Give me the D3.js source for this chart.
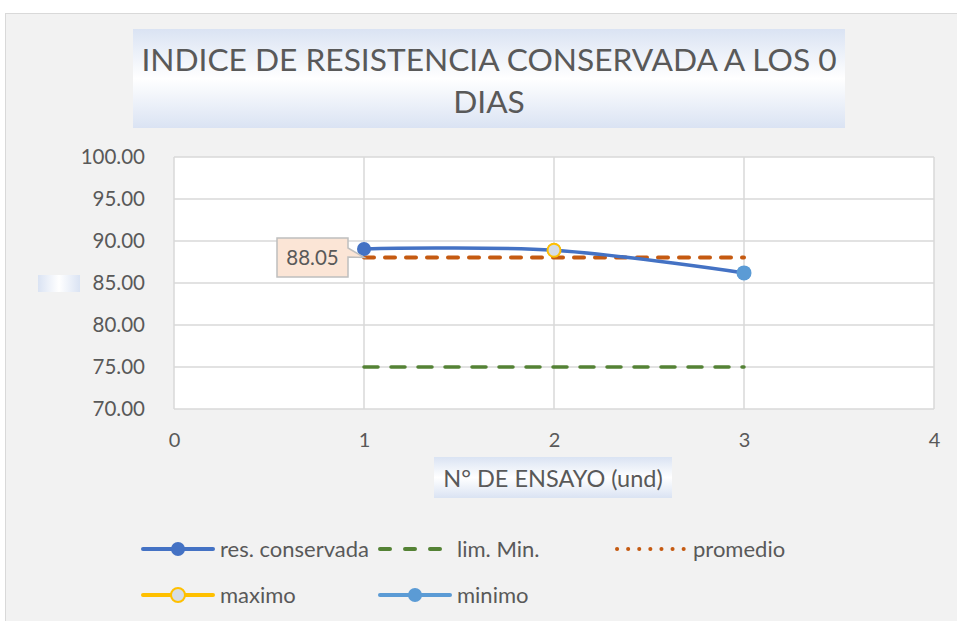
<!DOCTYPE html>
<html>
<head>
<meta charset="utf-8">
<script src="https://cdn.jsdelivr.net/npm/d3@7"></script>
<style>
  body { margin: 0; background: #fff; }
  svg { display: block; font-family: Lato, "Open Sans", sans-serif; }
</style>
</head>
<body>
<svg id="chart" width="957" height="621"></svg>
<script>
// data
var ensayos = [1, 2, 3];
var resConservada = [89.05, 88.90, 86.20];
var limMin = [75, 75, 75];
var promedio = [88.05, 88.05, 88.05];
var maximo = [{ x: 2, y: 88.90 }];
var minimo = [{ x: 3, y: 86.20 }];
var xTicks = [0, 1, 2, 3, 4];
var yTicks = [70, 75, 80, 85, 90, 95, 100];
var promedioLabel = "88.05";

var svg = d3.select("#chart");

var grey = "#595959";
var defs = svg.append("defs");
var grad = defs.append("linearGradient")
  .attr("id", "boxGrad").attr("x1", 0).attr("y1", 0).attr("x2", 0).attr("y2", 1);
grad.append("stop").attr("offset", "0%").attr("stop-color", "#dae3f3");
grad.append("stop").attr("offset", "50%").attr("stop-color", "#ffffff");
grad.append("stop").attr("offset", "100%").attr("stop-color", "#dae3f3");
var gradH = defs.append("linearGradient")
  .attr("id", "boxGradH").attr("x1", 0).attr("y1", 0).attr("x2", 1).attr("y2", 0);
gradH.append("stop").attr("offset", "0%").attr("stop-color", "#dae3f3");
gradH.append("stop").attr("offset", "50%").attr("stop-color", "#ffffff");
gradH.append("stop").attr("offset", "100%").attr("stop-color", "#dae3f3");

// chart background
svg.append("rect")
  .attr("x", 5.5).attr("y", 13.5).attr("width", 960).attr("height", 620)
  .attr("fill", "#f2f2f2").attr("stroke", "#d9d9d9");

// title
svg.append("rect")
  .attr("x", 133).attr("y", 29).attr("width", 712).attr("height", 99)
  .attr("fill", "url(#boxGrad)");
svg.append("text").attr("x", 489).attr("y", 71)
  .attr("text-anchor", "middle").attr("font-size", 31.7).attr("fill", grey)
  .text("INDICE DE RESISTENCIA CONSERVADA A LOS 0");
svg.append("text").attr("x", 489).attr("y", 113)
  .attr("text-anchor", "middle").attr("font-size", 31.7).attr("fill", grey)
  .text("DIAS");

// plot area
var plotL = 174, plotR = 934, plotT = 157, plotB = 409;
var x = d3.scaleLinear().domain([0, 4]).range([plotL, plotR]);
var y = d3.scaleLinear().domain([70, 100]).range([plotB, plotT]);

svg.append("rect")
  .attr("x", plotL).attr("y", plotT).attr("width", plotR - plotL).attr("height", plotB - plotT)
  .attr("fill", "#fff");

svg.append("g")
  .selectAll("line").data(yTicks).enter().append("line")
  .attr("x1", plotL).attr("x2", plotR)
  .attr("y1", function (d) { return y(d); }).attr("y2", function (d) { return y(d); })
  .attr("stroke", "#d9d9d9").attr("stroke-width", 1.5);
svg.append("g")
  .selectAll("line").data(xTicks).enter().append("line")
  .attr("y1", plotT).attr("y2", plotB)
  .attr("x1", function (d) { return x(d); }).attr("x2", function (d) { return x(d); })
  .attr("stroke", "#d9d9d9").attr("stroke-width", 1.5);

// axes (labels only)
var yAxis = svg.append("g")
  .attr("transform", "translate(" + (plotL - 26) + ",0)")
  .call(d3.axisLeft(y).tickValues(yTicks).tickSize(0).tickFormat(d3.format(".2f")));
yAxis.select(".domain").remove();
yAxis.selectAll("text").attr("font-size", 20.5).attr("fill", grey)
  .attr("font-family", "Lato, 'Open Sans', sans-serif");

var xAxis = svg.append("g")
  .attr("transform", "translate(0," + (plotB + 21) + ")")
  .call(d3.axisBottom(x).tickValues(xTicks).tickSize(0).tickFormat(d3.format("d")));
xAxis.select(".domain").remove();
xAxis.selectAll("text").attr("font-size", 20).attr("fill", grey)
  .attr("font-family", "Lato, 'Open Sans', sans-serif");

// axis title
svg.append("rect")
  .attr("x", 434).attr("y", 457).attr("width", 238).attr("height", 41)
  .attr("fill", "url(#boxGrad)");
svg.append("text").attr("x", 553).attr("y", 487)
  .attr("text-anchor", "middle").attr("font-size", 23.5).attr("fill", grey)
  .text("N° DE ENSAYO (und)");

// empty y axis title box
svg.append("rect")
  .attr("x", 38).attr("y", 275).attr("width", 42).attr("height", 17)
  .attr("fill", "url(#boxGradH)");

// series
function pts(vals) {
  return ensayos.map(function (e, i) { return { x: e, y: vals[i] }; });
}
var straight = d3.line().x(function (d) { return x(d.x); }).y(function (d) { return y(d.y); });
var smooth = d3.line().x(function (d) { return x(d.x); }).y(function (d) { return y(d.y); })
  .curve(d3.curveCardinal.tension(0));

svg.append("path").attr("d", straight(pts(limMin)))
  .attr("fill", "none").attr("stroke", "#548235").attr("stroke-width", 3.5)
  .attr("stroke-dasharray", "14,13").attr("stroke-linecap", "round");

svg.append("path").attr("d", straight(pts(promedio)))
  .attr("fill", "none").attr("stroke", "#c55a11").attr("stroke-width", 4)
  .attr("stroke-dasharray", "10,11").attr("stroke-linecap", "round");

svg.append("path").attr("d", smooth(pts(resConservada)))
  .attr("fill", "none").attr("stroke", "#4472c4").attr("stroke-width", 3.5);
svg.append("g").selectAll("circle").data(pts(resConservada)).enter().append("circle")
  .attr("cx", function (d) { return x(d.x); }).attr("cy", function (d) { return y(d.y); })
  .attr("r", 7).attr("fill", "#4472c4");

svg.append("g").selectAll("circle").data(maximo).enter().append("circle")
  .attr("cx", function (d) { return x(d.x); }).attr("cy", function (d) { return y(d.y); })
  .attr("r", 6.5).attr("fill", "#d6dce5").attr("stroke", "#ffc000").attr("stroke-width", 2);

svg.append("g").selectAll("circle").data(minimo).enter().append("circle")
  .attr("cx", function (d) { return x(d.x); }).attr("cy", function (d) { return y(d.y); })
  .attr("r", 7.5).attr("fill", "#5b9bd5");

// data label callout for promedio
var px = x(ensayos[0]), py = y(promedio[0]);
var bx = 277, by = 238, bw = 71, bh = 39;
svg.append("path")
  .attr("d", "M" + bx + "," + by + "H" + (bx + bw) + "V" + (by + 10) +
    "L" + px + "," + py + "L" + (bx + bw) + "," + (by + 19) +
    "V" + (by + bh) + "H" + bx + "Z")
  .attr("fill", "#fbe5d6").attr("stroke", "#bfbfbf").attr("stroke-width", 1.5);
svg.append("text").attr("x", bx + bw / 2).attr("y", by + 27)
  .attr("text-anchor", "middle").attr("font-size", 20.5).attr("fill", grey)
  .text(promedioLabel);

// legend
var legend = [
  { name: "res. conservada", color: "#4472c4", dash: null, marker: "fill", lx: 143, ly: 549 },
  { name: "lim. Min.", color: "#548235", dash: "10,15", marker: null, lx: 380, ly: 549 },
  { name: "promedio", color: "#c55a11", dash: "0.1,11", marker: null, lx: 617, ly: 549 },
  { name: "maximo", color: "#ffc000", dash: null, marker: "open", lx: 143, ly: 595 },
  { name: "minimo", color: "#5b9bd5", dash: null, marker: "fill", lx: 380, ly: 595 }
];
var lg = svg.append("g").selectAll("g").data(legend).enter().append("g")
  .attr("transform", function (d) { return "translate(" + d.lx + "," + d.ly + ")"; });
lg.append("line")
  .attr("x1", 0)
  .attr("x2", function (d) { return d.name === "promedio" ? 68 : 70; })
  .attr("y1", 0).attr("y2", 0)
  .attr("stroke", function (d) { return d.color; })
  .attr("stroke-width", 4)
  .attr("stroke-linecap", "round")
  .attr("stroke-dasharray", function (d) { return d.dash; });
lg.filter(function (d) { return d.marker; }).append("circle")
  .attr("cx", 35).attr("cy", 0).attr("r", 7)
  .attr("fill", function (d) { return d.marker === "open" ? "#d6dce5" : d.color; })
  .attr("stroke", function (d) { return d.marker === "open" ? d.color : "none"; })
  .attr("stroke-width", 2);
lg.append("text")
  .attr("x", function (d) { return d.name === "promedio" ? 76 : 77; })
  .attr("y", 8)
  .attr("font-size", 22).attr("fill", grey)
  .text(function (d) { return d.name; });
</script>
</body>
</html>
